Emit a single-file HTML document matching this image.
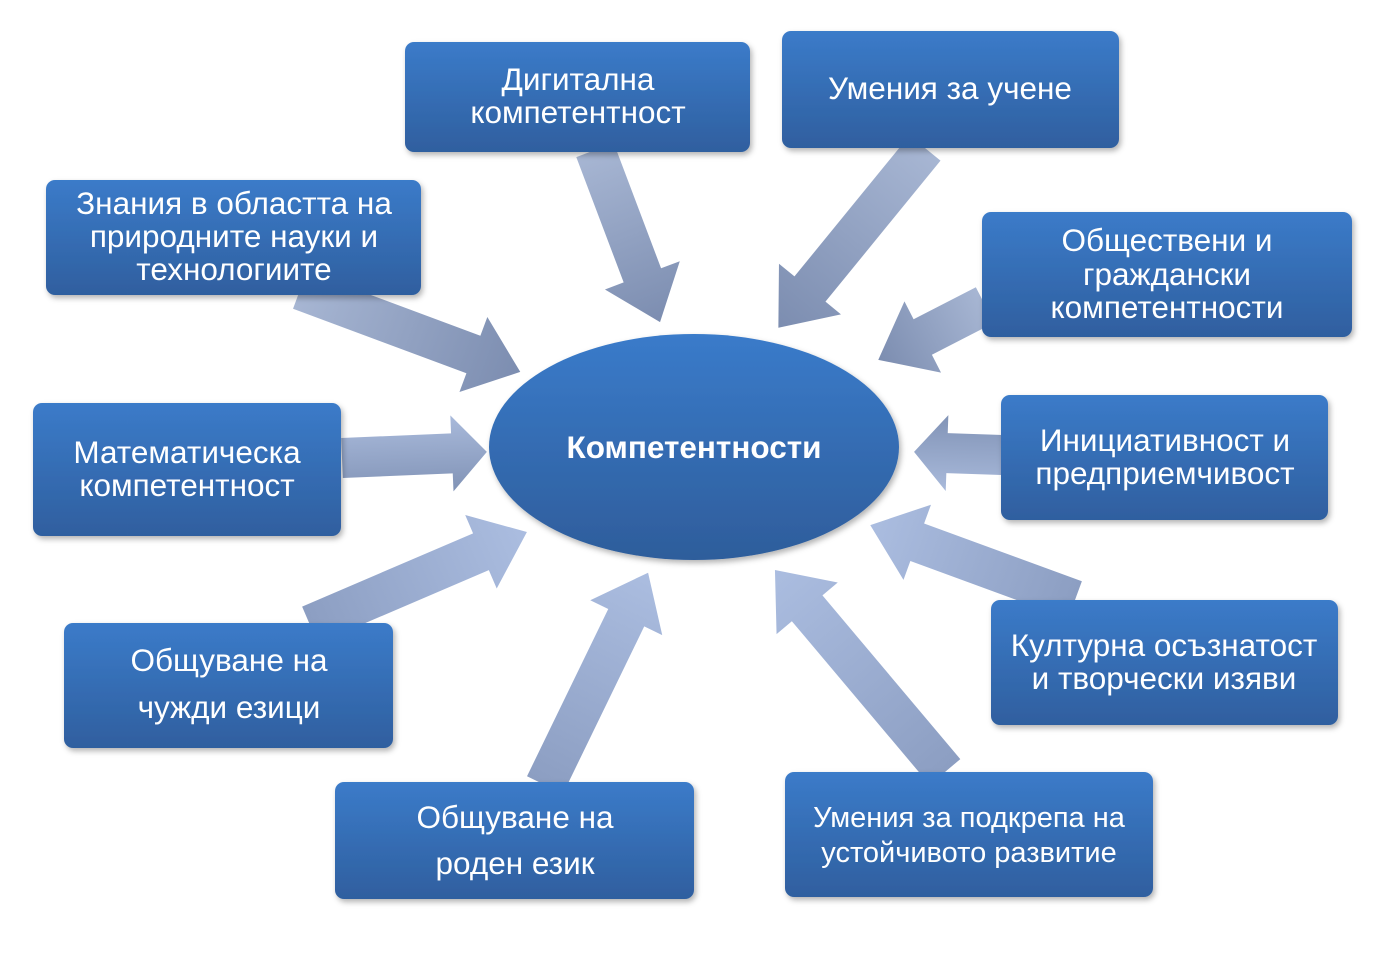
<!DOCTYPE html>
<html><head><meta charset="utf-8"><style>
html,body{margin:0;padding:0;background:#fff;}
svg{display:block;}
text{font-family:"Liberation Sans",sans-serif;fill:#fff;text-anchor:middle;}
</style></head><body>
<svg width="1398" height="959" viewBox="0 0 1398 959" xmlns="http://www.w3.org/2000/svg">
<defs>
<linearGradient id="bx" x1="0" y1="0" x2="0" y2="1">
<stop offset="0" stop-color="#3b7bc9"/><stop offset="1" stop-color="#2f5f9f"/></linearGradient>
<linearGradient id="el" x1="0" y1="0" x2="0" y2="1">
<stop offset="0" stop-color="#3a7bca"/><stop offset="1" stop-color="#2e5d9b"/></linearGradient>
<linearGradient id="aDown" x1="0" y1="0" x2="1" y2="0">
<stop offset="0" stop-color="#a7b6d3"/><stop offset="1" stop-color="#7c8db0"/></linearGradient>
<linearGradient id="aUp" x1="0" y1="0" x2="1" y2="0">
<stop offset="0" stop-color="#8c9ec2"/><stop offset="1" stop-color="#abbde0"/></linearGradient>
<linearGradient id="aMid" x1="0" y1="0" x2="0" y2="1">
<stop offset="0" stop-color="#a9badb"/><stop offset="1" stop-color="#8193b6"/></linearGradient>
<filter id="sh" x="-10%" y="-10%" width="120%" height="130%">
<feDropShadow dx="2" dy="3" stdDeviation="3" flood-color="#000" flood-opacity="0.3"/></filter>
</defs>

<g transform="translate(595,150) rotate(69.3)"><polygon fill="url(#aDown)" points="0,-20 134,-20 134,-40 184,0 134,40 134,20 0,20"/></g>
<g transform="translate(925,148) rotate(129.2)"><polygon fill="url(#aDown)" points="0,-20 182,-20 182,-40 232,0 182,40 182,20 0,20"/></g>
<g transform="translate(300,290) rotate(20.4)"><polygon fill="url(#aDown)" points="0,-20 185,-20 185,-40 235,0 185,40 185,20 0,20"/></g>
<g transform="translate(985,305) rotate(152.8)"><polygon fill="url(#aDown)" points="0,-20 70,-20 70,-40 120,0 70,40 70,20 0,20"/></g>
<g transform="translate(342,458) rotate(-2.4)"><polygon fill="url(#aMid)" points="0,-20 110,-20 110,-38 145,0 110,38 110,20 0,20"/></g>
<g transform="translate(1002,455) rotate(182)"><polygon fill="url(#aMid)" points="0,-20 55,-20 55,-38 88,0 55,38 55,20 0,20"/></g>
<g transform="translate(310,625) rotate(-23.2)"><polygon fill="url(#aUp)" points="0,-20 186,-20 186,-40 236,0 186,40 186,20 0,20"/></g>
<g transform="translate(545,785) rotate(-64.1)"><polygon fill="url(#aUp)" points="0,-20 186,-20 186,-40 236,0 186,40 186,20 0,20"/></g>
<g transform="translate(945,772) rotate(-130.1)"><polygon fill="url(#aUp)" points="0,-20 214,-20 214,-40 264,0 214,40 214,20 0,20"/></g>
<g transform="translate(1075,600) rotate(-159.9)"><polygon fill="url(#aUp)" points="0,-20 168,-20 168,-40 218,0 168,40 168,20 0,20"/></g>

<ellipse cx="694" cy="447" rx="205" ry="113" fill="url(#el)" filter="url(#sh)"/>
<text x="694" y="458" font-size="31.5" font-weight="bold">Компетентности</text>

<g filter="url(#sh)" fill="url(#bx)">
<rect x="405" y="42" width="345" height="110" rx="9"/>
<rect x="782" y="31" width="337" height="117" rx="9"/>
<rect x="46" y="180" width="375" height="115" rx="9"/>
<rect x="982" y="212" width="370" height="125" rx="9"/>
<rect x="33" y="403" width="308" height="133" rx="9"/>
<rect x="1001" y="395" width="327" height="125" rx="9"/>
<rect x="64" y="623" width="329" height="125" rx="9"/>
<rect x="335" y="782" width="359" height="117" rx="9"/>
<rect x="785" y="772" width="368" height="125" rx="9"/>
<rect x="991" y="600" width="347" height="125" rx="9"/>
</g>

<g font-size="31.5">
<text x="578" y="90">Дигитална</text>
<text x="578" y="123">компетентност</text>
<text x="950" y="99">Умения за учене</text>
<text x="234" y="214">Знания в областта на</text>
<text x="234" y="247">природните науки и</text>
<text x="234" y="280">технологиите</text>
<text x="1167" y="251">Обществени и</text>
<text x="1167" y="285">граждански</text>
<text x="1167" y="318">компетентности</text>
<text x="187" y="463">Математическа</text>
<text x="187" y="496">компетентност</text>
<text x="1165" y="451">Инициативност и</text>
<text x="1165" y="484">предприемчивост</text>
<text x="229" y="671">Общуване на</text>
<text x="229" y="718">чужди езици</text>
<text x="515" y="828">Общуване на</text>
<text x="515" y="874">роден език</text>
<text x="1164" y="656">Културна осъзнатост</text>
<text x="1164" y="689">и творчески изяви</text>
</g>
<g font-size="29">
<text x="969" y="827">Умения за подкрепа на</text>
<text x="969" y="862">устойчивото развитие</text>
</g>
</svg>
</body></html>
